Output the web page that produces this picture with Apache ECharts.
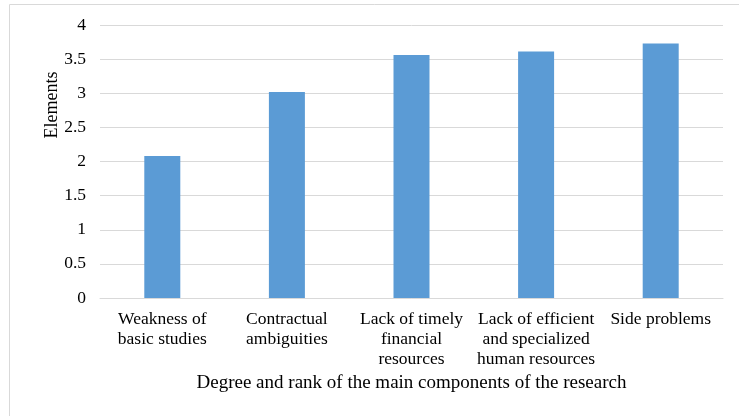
<!DOCTYPE html>
<html><head><meta charset="utf-8">
<script src="https://cdn.jsdelivr.net/npm/echarts@6/dist/echarts.min.js"></script>
<style>html,body{margin:0;padding:0;background:#fff;}#c{width:739px;height:416px;}</style>
</head><body><div id="c"></div>
<script>
const categories = ["Weakness of\nbasic studies", "Contractual\nambiguities", "Lack of timely\nfinancial\nresources", "Lack of efficient\nand specialized\nhuman resources", "Side problems"];
const values = [2.08, 3.02, 3.56, 3.61, 3.73];
const yTicks = [0, 0.5, 1, 1.5, 2, 2.5, 3, 3.5, 4];
const xTitle = "Degree and rank of the main components of the research";
const yTitle = "Elements";

const chart = echarts.init(document.getElementById('c'));
const font = '"Liberation Serif", "Times New Roman", serif';
chart.setOption({
  animation: false,
  graphic: [
    {type: 'rect', shape: {x: 9.5, y: 4.5, width: 760, height: 440}, style: {fill: 'none', stroke: '#d9d9d9', lineWidth: 1}, silent: true},
    {type: 'text', x: 52, y: 105, rotation: Math.PI / 2, silent: true,
     style: {text: yTitle, fill: '#000', font: '18px ' + font, textAlign: 'center', textVerticalAlign: 'middle'}}
  ],
  grid: {left: 100, right: 16, top: 25, bottom: 118},
  xAxis: {
    type: 'category', data: categories,
    axisLine: {lineStyle: {color: '#d9d9d9', width: 1}},
    axisTick: {show: false},
    axisLabel: {color: '#000', fontFamily: font, fontSize: 17.5, lineHeight: 20, margin: 11, interval: 0},
    name: xTitle, nameLocation: 'middle', nameGap: 72,
    nameTextStyle: {color: '#000', fontFamily: font, fontSize: 19}
  },
  yAxis: {
    type: 'value', min: 0, max: 4, interval: 0.5,
    axisLine: {show: false}, axisTick: {show: false},
    splitLine: {lineStyle: {color: '#d9d9d9', width: 1}},
    axisLabel: {color: '#000', fontFamily: font, fontSize: 17.5, margin: 14,
      formatter: v => yTicks.includes(v) ? String(v) : ''}
  },
  series: [{type: 'bar', data: values, barWidth: 36, itemStyle: {color: '#5b9bd5'}}]
});
</script></body></html>
